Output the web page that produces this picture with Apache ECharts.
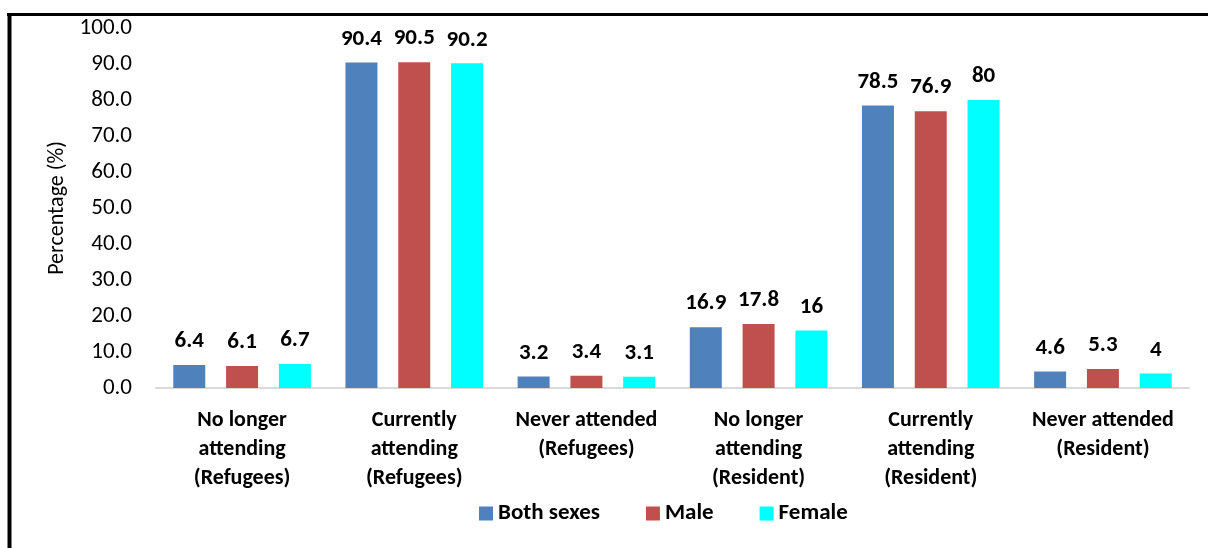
<!DOCTYPE html>
<html><head><meta charset="utf-8">
<script src="https://cdn.jsdelivr.net/npm/echarts@6/dist/echarts.min.js"></script>
<style>html,body{margin:0;padding:0;background:#fff}#c{width:1208px;height:548px}</style>
</head><body><div id="c"></div>
<script>
const categories = ["No longer\nattending\n(Refugees)","Currently\nattending\n(Refugees)","Never attended\n(Refugees)","No longer\nattending\n(Resident)","Currently\nattending\n(Resident)","Never attended\n(Resident)"];
const bothSexes = [6.4, 90.4, 3.2, 16.9, 78.5, 4.6];
const male = [6.1, 90.5, 3.4, 17.8, 76.9, 5.3];
const female = [6.7, 90.2, 3.1, 16, 80, 4];
const seriesNames = ["Both sexes","Male","Female"];
const colors = ["#4F81BD","#C0504D","#00FFFF"];
const font = "Carlito, Lato, 'Liberation Sans', sans-serif";
const chart = echarts.init(document.getElementById('c'));
const lbl = {show:true, position:'top', distance:12, color:'#000', fontWeight:'bold', fontSize:23, fontFamily:font};
function mk(name, data, color){
  return {name, type:'bar', data, barWidth:32, barGap:'65%', itemStyle:{color}, label:lbl};
}
chart.setOption({
  animation:false,
  graphic:[
    {type:'line', shape:{x1:7, y1:14.5, x2:1208, y2:14.5}, style:{stroke:'#000', lineWidth:3}},
    {type:'line', shape:{x1:9.5, y1:13, x2:9.5, y2:548}, style:{stroke:'#000', lineWidth:4}}
  ],
  grid:{left:156, right:19, top:28, bottom:160, containLabel:false},
  legend:{bottom:18, left:474, itemWidth:14, itemHeight:14, itemGap:46, icon:'rect',
    textStyle:{fontSize:23, fontWeight:'bold', fontFamily:font, color:'#000'}, data:seriesNames},
  xAxis:{type:'category', data:categories,
    axisLine:{lineStyle:{color:'#D9D9D9', width:2}}, axisTick:{show:false},
    axisLabel:{interval:0, margin:18, lineHeight:29, fontSize:22, fontWeight:'bold', fontFamily:font, color:'#000'}},
  yAxis:{type:'value', min:0, max:100, interval:10,
    name:'Percentage (%)', nameLocation:'middle', nameGap:88, nameRotate:90,
    nameTextStyle:{fontSize:22, fontFamily:font, color:'#000'},
    splitLine:{show:false}, axisLine:{show:false}, axisTick:{show:false},
    axisLabel:{margin:24, fontSize:23, fontFamily:font, color:'#000', formatter:v=>v.toFixed(1)}},
  series:[mk(seriesNames[0], bothSexes, colors[0]), mk(seriesNames[1], male, colors[1]), mk(seriesNames[2], female, colors[2])]
});
</script></body></html>
